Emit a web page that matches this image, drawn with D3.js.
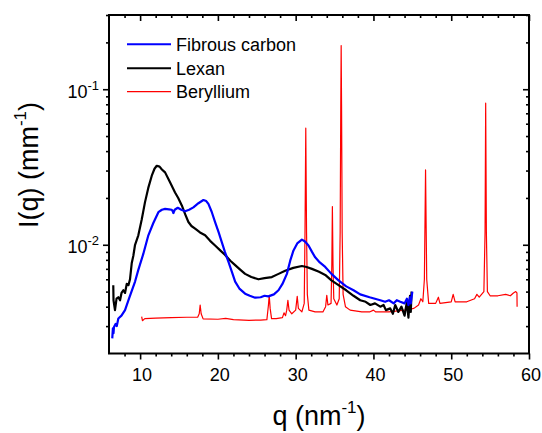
<!DOCTYPE html>
<html>
<head>
<meta charset="utf-8">
<script src="https://cdn.jsdelivr.net/npm/d3@7"></script>
<style>
  html, body { margin: 0; padding: 0; background: #fff; }
  svg { display: block; font-family: "Liberation Sans", Arial, sans-serif; }
</style>
</head>
<body>
<svg id="chart" width="542" height="433"></svg>
<script>
// ---------- data (q in nm^-1, I in mm^-1) ----------
const seriesNames = ["Fibrous carbon", "Lexan", "Beryllium"];
const seriesColors = ["#0000ff", "#000000", "#ff0000"];

const fibrousQ = [6.42,6.50,6.58,6.64,6.86,7.0,7.2,7.6,8.06,8.57,9.35,9.77,10.4,11.06,11.7,12.35,12.8,13.21,13.7,14.07,14.2,14.28,14.45,14.84,15.3,15.78,16.3,16.85,17.5,18.14,18.5,18.78,19.2,19.64,20.1,20.5,20.9,21.35,21.8,22.22,22.8,23.5,24.1,24.79,25.5,26.0,26.5,27.2,27.79,28.3,28.87,29.3,29.72,30.2,30.8,31.2,31.65,32.1,32.51,33.1,33.8,34.6,35.51,36.5,37.44,38.3,39.5,40.88,41.5,42.0,42.6,43.0,43.45,44.0,44.3,44.5,44.7,44.8,45.0];
const fibrousI = [0.0025,0.0029,0.0027,0.00296,0.0031,0.0030,0.00336,0.0035,0.0038,0.0045,0.0058,0.0069,0.0087,0.0115,0.0138,0.0162,0.0168,0.0170,0.0169,0.0168,0.0164,0.0160,0.0168,0.0173,0.0168,0.0164,0.0168,0.0174,0.0185,0.0194,0.0191,0.0183,0.0163,0.0140,0.0120,0.0104,0.0090,0.0078,0.0067,0.0058,0.0052,0.00485,0.0047,0.00457,0.0046,0.0047,0.00466,0.0048,0.0051,0.0056,0.0065,0.0079,0.0092,0.0102,0.0108,0.0105,0.0099,0.0090,0.0083,0.0077,0.0072,0.0065,0.0059,0.0054,0.0051,0.0048,0.0046,0.0044,0.0043,0.0044,0.0042,0.0044,0.0043,0.0042,0.0045,0.0041,0.0046,0.0042,0.0050];

const lexanQ = [6.55,6.58,6.77,6.97,7.2,7.42,7.61,7.84,8.06,8.28,8.5,8.7,8.92,9.13,9.35,9.77,10.2,10.63,11.05,11.5,11.85,12.14,12.5,12.8,13.21,13.8,14.49,14.9,15.36,15.8,16.21,16.6,17.07,17.7,18.36,19.0,19.64,20.3,20.93,21.6,22.22,22.9,23.5,24.3,25.21,26.0,26.94,27.8,28.65,29.7,30.8,31.4,32.09,33.0,33.8,34.6,35.51,36.5,37.44,38.3,39.0,39.6,40.2,40.88,41.3,41.6,42.16,42.5,42.8,43.2,43.6,44.0,44.3,44.5,44.7,44.8,44.9];
const lexanI = [0.0055,0.0044,0.0038,0.0045,0.0046,0.0044,0.0049,0.0051,0.0049,0.0056,0.0055,0.0060,0.0076,0.0085,0.0100,0.0115,0.0145,0.0188,0.0232,0.0278,0.0308,0.0322,0.0318,0.0305,0.0292,0.0255,0.0217,0.0200,0.0179,0.0157,0.0140,0.0132,0.0127,0.0120,0.0115,0.0106,0.0099,0.0092,0.0086,0.0079,0.0074,0.0069,0.0065,0.0062,0.0060,0.0061,0.0062,0.0065,0.0068,0.0071,0.0073,0.0072,0.0070,0.0067,0.0064,0.0059,0.0055,0.0051,0.0047,0.0044,0.0043,0.0041,0.0042,0.0040,0.0041,0.0038,0.0039,0.0036,0.0041,0.0037,0.0040,0.0035,0.0043,0.0034,0.0047,0.0037,0.0050];

const berylliumQ = [10.2,10.3,10.6,12,14,16,17.4,17.6,17.72,17.85,18.1,20,21,22,24,25.5,26.3,26.5,26.6,26.72,26.9,27.5,28.3,28.5,28.7,28.85,29.0,29.15,29.5,30.0,30.2,30.35,30.8,31.1,31.2,31.3,31.4,31.5,31.7,32.5,33.5,33.85,34.0,34.15,34.55,34.65,34.72,34.8,34.9,35.3,35.6,35.72,35.8,35.85,35.9,35.98,36.1,36.4,37,38.5,39.5,40,40.3,42,44,45.2,45.8,46.1,46.35,46.55,46.7,46.85,47.1,48.0,48.35,48.55,50.0,50.25,50.5,52,53.0,53.3,53.6,54.2,54.35,54.43,54.52,54.65,55,56,57,57.6,58,58.3,58.45,58.47];
const berylliumI = [0.00345,0.00325,0.00335,0.00338,0.0034,0.00342,0.00342,0.0036,0.0041,0.0036,0.00334,0.00332,0.00336,0.0033,0.00327,0.00328,0.0033,0.0041,0.00473,0.0039,0.00335,0.00335,0.0034,0.00365,0.0035,0.0038,0.0044,0.0038,0.0036,0.0038,0.00466,0.0039,0.0037,0.0042,0.012,0.0562,0.012,0.0048,0.0038,0.0037,0.0037,0.0040,0.00473,0.0041,0.0042,0.0075,0.0176,0.0075,0.0045,0.0041,0.0045,0.012,0.08,0.191,0.08,0.012,0.0048,0.0040,0.0038,0.0037,0.0037,0.0038,0.0037,0.0037,0.0038,0.0039,0.0041,0.0045,0.0043,0.006,0.0303,0.006,0.0042,0.0042,0.0046,0.0042,0.0043,0.0048,0.0043,0.0043,0.0045,0.0048,0.0046,0.0050,0.012,0.0813,0.012,0.0050,0.0047,0.0047,0.0048,0.0047,0.0049,0.0050,0.0049,0.0040];

const xMajorTicks = [10, 20, 30, 40, 50, 60];
const yMajorTicks = [0.01, 0.1];
const yTickExponents = ["-2", "-1"];
const xTitle = "q (nm";
const yTitle = "I(q) (mm";

// ---------- layout ----------
const svg = d3.select("#chart");
const L = 109, R = 529, T = 15, B = 353.5;
const x = d3.scaleLinear().domain([6, 60]).range([L, R]);
const y = d3.scaleLog().domain([0.002, 0.3]).range([B, T]);

const xMinor = d3.range(6, 61, 2).filter(v => !xMajorTicks.includes(v) && v > 6 && v < 60);
const yMinor = [];
[0.001, 0.01, 0.1].forEach(d => { for (let k = 2; k <= 9; k++) { const v = +(d * k).toPrecision(3); if (v > 0.002 && v < 0.3) yMinor.push(v); } });
yMinor.push(0.3);

// clip
svg.append("clipPath").attr("id", "clip").append("rect")
  .attr("x", L).attr("y", T).attr("width", R - L).attr("height", B - T);

// axes
function styleAxis(g) {
  g.select(".domain").remove();
  g.selectAll("line").attr("stroke", "#000").attr("stroke-width", 1.6);
  g.selectAll("text").remove();
}
// left: outward
svg.append("g").attr("transform", `translate(${L},0)`).call(d3.axisLeft(y).tickValues(yMajorTicks).tickSize(6)).call(styleAxis);
svg.append("g").attr("transform", `translate(${L},0)`).call(d3.axisLeft(y).tickValues(yMinor).tickSize(3)).call(styleAxis);
// right: inward
svg.append("g").attr("transform", `translate(${R},0)`).call(d3.axisLeft(y).tickValues(yMajorTicks).tickSize(6)).call(styleAxis);
svg.append("g").attr("transform", `translate(${R},0)`).call(d3.axisLeft(y).tickValues(yMinor).tickSize(3)).call(styleAxis);
// bottom: outward
svg.append("g").attr("transform", `translate(0,${B})`).call(d3.axisBottom(x).tickValues(xMajorTicks).tickSize(6)).call(styleAxis);
svg.append("g").attr("transform", `translate(0,${B})`).call(d3.axisBottom(x).tickValues(xMinor).tickSize(3)).call(styleAxis);
// top: inward
svg.append("g").attr("transform", `translate(0,${T})`).call(d3.axisBottom(x).tickValues(xMajorTicks).tickSize(6)).call(styleAxis);
svg.append("g").attr("transform", `translate(0,${T})`).call(d3.axisBottom(x).tickValues(xMinor).tickSize(3)).call(styleAxis);

// frame
svg.append("rect").attr("x", L).attr("y", T).attr("width", R - L).attr("height", B - T)
  .attr("fill", "none").attr("stroke", "#000").attr("stroke-width", 2);

// tick labels
svg.append("g").selectAll("text").data(xMajorTicks).join("text")
  .attr("x", d => x(d) + 2).attr("y", B + 27)
  .attr("text-anchor", "middle").attr("font-size", 18).attr("fill", "#000")
  .text(d => d);

const yl = svg.append("g").selectAll("text").data(yMajorTicks).join("text")
  .attr("x", 99).attr("y", d => y(d) + 8.5)
  .attr("text-anchor", "end").attr("font-size", 18).attr("fill", "#000");
yl.append("tspan").text("10");
yl.append("tspan").attr("font-size", 13).attr("dy", -8).text((d, i) => yTickExponents[i]);

// axis titles
const xt = svg.append("text").attr("x", (L + R) / 2).attr("y", 425)
  .attr("text-anchor", "middle").attr("font-size", 27).attr("fill", "#000");
xt.append("tspan").text(xTitle);
xt.append("tspan").attr("font-size", 17).attr("dy", -12).text("-1");
xt.append("tspan").attr("dy", 12).text(")");

const yt = svg.append("text").attr("transform", `translate(38,${165}) rotate(-90)`)
  .attr("text-anchor", "middle").attr("font-size", 27).attr("fill", "#000");
yt.append("tspan").text(yTitle);
yt.append("tspan").attr("font-size", 17).attr("dy", -12).text("-1");
yt.append("tspan").attr("dy", 12).text(")");

// lines
const line = d3.line().x(d => x(d[0])).y(d => y(d[1]));
const plot = svg.append("g").attr("clip-path", "url(#clip)");
const series = [
  { q: berylliumQ, I: berylliumI, color: seriesColors[2], w: 1.2 },
  { q: lexanQ, I: lexanI, color: seriesColors[1], w: 2.2 },
  { q: fibrousQ, I: fibrousI, color: seriesColors[0], w: 2.2 }
];
series.forEach(s => {
  plot.append("path").datum(s.q.map((q, i) => [q, s.I[i]]))
    .attr("fill", "none").attr("stroke", s.color).attr("stroke-width", s.w)
    .attr("stroke-linejoin", "round").attr("d", line);
});
// legend
const legY = [44.3, 68.3, 91.7];
const lg = svg.append("g");
seriesNames.forEach((n, i) => {
  lg.append("line").attr("x1", 127).attr("x2", 171).attr("y1", legY[i]).attr("y2", legY[i])
    .attr("stroke", seriesColors[i]).attr("stroke-width", i === 2 ? 1.2 : 2);
  lg.append("text").attr("x", 176).attr("y", legY[i] + 6.5).attr("font-size", 18).attr("fill", "#000").text(n);
});
</script>
</body>
</html>
